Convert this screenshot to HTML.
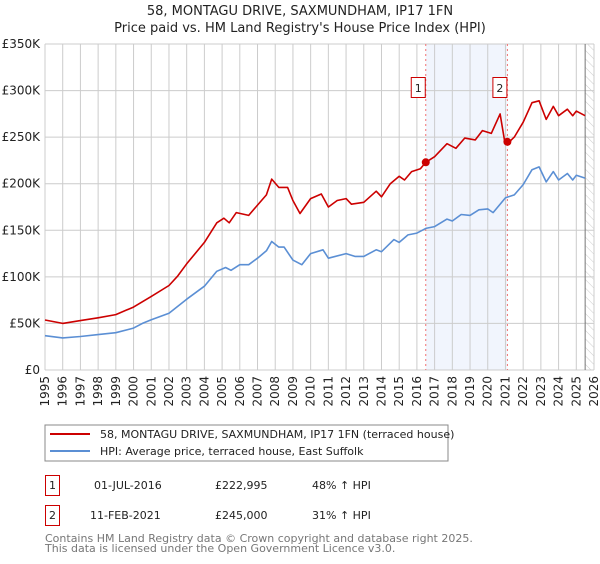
<!DOCTYPE html>
<html><head><meta charset="utf-8"><style>
body{margin:0;background:#fff;font-family:"DejaVu Sans","Liberation Sans",sans-serif;}
svg text{font-family:"DejaVu Sans","Liberation Sans",sans-serif;}
</style></head><body>
<svg id="c" width="600" height="560" xmlns="http://www.w3.org/2000/svg">
<defs><pattern id="hatch" width="6" height="6" patternUnits="userSpaceOnUse" patternTransform="rotate(-45)"><line x1="0" y1="0" x2="0" y2="6" stroke="#ccc" stroke-width="1"/></pattern></defs>
<text x="300" y="15" text-anchor="middle" font-size="13" fill="#222">58, MONTAGU DRIVE, SAXMUNDHAM, IP17 1FN</text>
<text x="300" y="32" text-anchor="middle" font-size="13" fill="#222">Price paid vs. HM Land Registry's House Price Index (HPI)</text>
<g id="grid"></g><g id="marks"></g><g id="axes"></g>
<rect x="45" y="425" width="403" height="36" fill="#fff" stroke="#888"/>
<line x1="50" y1="434" x2="90" y2="434" stroke="#cc0000" stroke-width="2"/>
<text x="100" y="438" font-size="11" fill="#222">58, MONTAGU DRIVE, SAXMUNDHAM, IP17 1FN (terraced house)</text>
<line x1="50" y1="451" x2="90" y2="451" stroke="#5b8fd4" stroke-width="2"/>
<text x="100" y="455" font-size="11" fill="#222">HPI: Average price, terraced house, East Suffolk</text>
<g font-size="11" fill="#222">
<rect x="45.5" y="475.5" width="14" height="20" fill="#fff" stroke="#cc0000"/>
<text x="52.5" y="489" text-anchor="middle">1</text>
<text x="94" y="489">01-JUL-2016</text>
<text x="215" y="489">£222,995</text>
<text x="312" y="489">48% ↑ HPI</text>
<rect x="45.5" y="505.5" width="14" height="20" fill="#fff" stroke="#cc0000"/>
<text x="52.5" y="519" text-anchor="middle">2</text>
<text x="90" y="519">11-FEB-2021</text>
<text x="215" y="519">£245,000</text>
<text x="312" y="519">31% ↑ HPI</text>
</g>
<text x="45" y="542" font-size="11" fill="#777">Contains HM Land Registry data © Crown copyright and database right 2025.</text>
<text x="45" y="552" font-size="11" fill="#777">This data is licensed under the Open Government Licence v3.0.</text>
</svg>
<script>
const hpiYears=[1995,1996,1997,1998,1999,2000,2000.5,2001,2002,2003,2004,2004.7,2005.2,2005.5,2006,2006.5,2007,2007.5,2007.8,2008.2,2008.5,2009,2009.5,2010,2010.7,2011,2012,2012.5,2013,2013.7,2014,2014.7,2015,2015.5,2016,2016.5,2017,2017.7,2018,2018.5,2019,2019.5,2020,2020.3,2021,2021.5,2022,2022.5,2022.9,2023.3,2023.7,2024,2024.5,2024.8,2025,2025.5];
const hpiValues=[36.8,34.5,36,38,40,45,50,54,61,76,90,106,110,107,113,113,120,128,138,132,132,118,113,125,129,120,125,122,122,129,127,140,137,145,147,152,154,162,160,167,166,172,173,169,185,188,199,215,218,202,213,204,211,204,209,206];
const propYears=[1995,1996,1997,1998,1999,2000,2001,2002,2002.5,2003,2004,2004.7,2005.1,2005.4,2005.8,2006.5,2007,2007.5,2007.8,2008.2,2008.7,2009,2009.4,2010,2010.6,2011,2011.5,2012,2012.3,2013,2013.7,2014,2014.5,2015,2015.3,2015.7,2016.2,2016.5,2017,2017.7,2018.2,2018.7,2019.3,2019.7,2020.2,2020.7,2020.95,2021.11,2021.5,2022,2022.5,2022.9,2023.3,2023.7,2024,2024.5,2024.8,2025,2025.5];
const propValues=[53.7,50,53,56,59.5,67.5,79,90.7,101,114,137,158,163,158,169,166,177,188,205,196,196,182,168,184,189,175,182,184,178,180,192,186,200,208,204,213,216,223,229,243,238,249,247,257,254,275,246,243,250,266,287,289,269,283,273,280,273,278,273];
const saleYears=[2016.5,2021.11];
const saleValues=[222.995,245];
const saleLabels=["1","2"];
const yTicks=[0,50,100,150,200,250,300,350];
const yTickLabels=["£0","£50K","£100K","£150K","£200K","£250K","£300K","£350K"];
const xTicks=[1995,1996,1997,1998,1999,2000,2001,2002,2003,2004,2005,2006,2007,2008,2009,2010,2011,2012,2013,2014,2015,2016,2017,2018,2019,2020,2021,2022,2023,2024,2025,2026];

const X0=45,X1=594,Y0=370,Y1=44;
const xs=y=>X0+(y-1995)*(X1-X0)/31;
const ys=v=>Y0-v*(Y0-Y1)/350;
const NS="http://www.w3.org/2000/svg";
function mk(tag,attrs,parent,txt){const e=document.createElementNS(NS,tag);for(const k in attrs)e.setAttribute(k,attrs[k]);if(txt!=null)e.textContent=txt;parent.appendChild(e);return e;}
const grid=document.getElementById('grid'),marks=document.getElementById('marks'),axes=document.getElementById('axes');
// shaded region and hatch
let sh=mk('rect',{x:xs(saleYears[0]),y:Y1,width:xs(saleYears[1])-xs(saleYears[0]),height:Y0-Y1,fill:'#eef3fd',opacity:0.8},grid);


let ht=mk('rect',{x:xs(2025.5),y:Y1,width:X1-xs(2025.5),height:Y0-Y1,fill:'url(#hatch)'},grid);


yTicks.forEach((v,i)=>{
 let l=mk('line',{x1:X0,x2:X1,y1:ys(v),y2:ys(v),stroke:'#ccc'},grid);
 
 
 let t=mk('text',{x:40,y:ys(v)+4,'text-anchor':'end','font-size':12,fill:'#222'},axes,yTickLabels[i]);
 
 
});
xTicks.forEach(yr=>{
 let l=mk('line',{x1:xs(yr),x2:xs(yr),y1:Y1,y2:Y0,stroke:'#ccc'},grid);
 
 
 let t=mk('text',{x:0,y:0,'text-anchor':'end','font-size':12,fill:'#222',transform:`translate(${xs(yr)+4},${Y0+6}) rotate(-90)`},axes,String(yr));
 
 
});
let vl=mk('line',{x1:xs(2025.5),x2:xs(2025.5),y1:Y1,y2:Y0,stroke:'#777'},grid);


saleYears.forEach((yr,i)=>{
 let l=mk('line',{x1:xs(yr),x2:xs(yr),y1:Y1,y2:Y0,stroke:'#f07070','stroke-dasharray':'2,3'},grid);
 
 
});
function path(xa,va,color,name){
 const d=xa.map((x,i)=>(i?'L':'M')+xs(x).toFixed(1)+','+ys(va[i]).toFixed(1)).join('');
 let p=mk('path',{d:d,fill:'none',stroke:color,'stroke-width':1.6,'stroke-linejoin':'round'},marks);
 
 
}
path(hpiYears,hpiValues,'#5b8fd4','hpi-line');
path(propYears,propValues,'#cc0000','property-price-line');
saleYears.forEach((yr,i)=>{
 let c=mk('circle',{cx:xs(yr),cy:ys(saleValues[i]),r:4,fill:'#cc0000'},marks);
 
 
 let b=mk('rect',{x:xs(yr)-14.5,y:77.5,width:14,height:20,fill:'#fff',stroke:'#cc0000'},marks);
 
 
 let t=mk('text',{x:xs(yr)-7.5,y:92,'text-anchor':'middle','font-size':11,fill:'#222'},marks,saleLabels[i]);
 
 
});
</script>
</body></html>
